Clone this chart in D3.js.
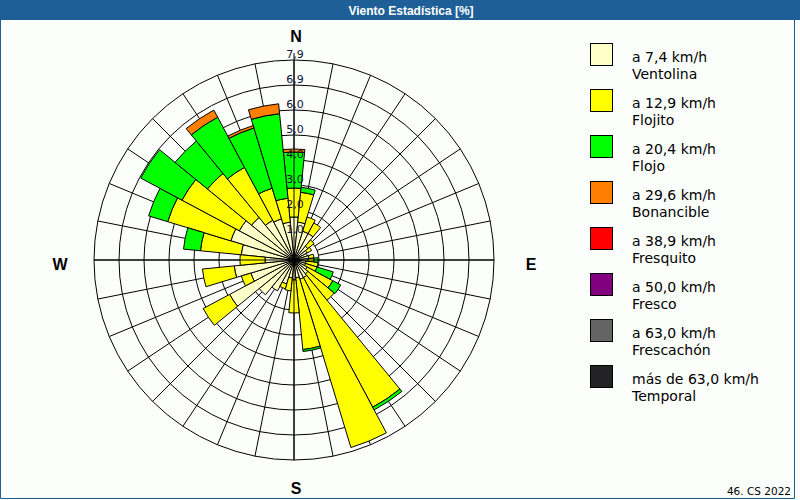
<!DOCTYPE html>
<html><head><meta charset="utf-8">
<script src="https://cdn.jsdelivr.net/npm/d3@7"></script>
<style>html,body{margin:0;padding:0;background:#fff}svg{display:block}</style>
</head><body>
<svg id="chart" width="800" height="500"></svg>
<script>
// 32 wind directions (11.25° steps, clockwise from N)
const directions = ["N","NbE","NNE","NEbN","NE","NEbE","ENE","EbN","E","EbS","ESE","SEbE","SE","SEbS","SSE","SbE",
                    "S","SbW","SSW","SWbS","SW","SWbW","WSW","WbS","W","WbN","WNW","NWbW","NW","NWbN","NNW","NbW"];
// percentage per speed class
const ventolina  = [1.72,1.52,1.20,1.20,0.72,0.60,0.56,0.60,0.56,0.48,0.48,0.60,0.72,0.80,0.80,0.72,
                    0.80,0.72,1.00,1.40,1.80,2.92,1.80,2.40,1.16,2.12,2.64,2.48,2.20,1.80,1.72,1.52];
const flojito    = [1.16,1.20,0.60,0.48,0.32,0.20,0.00,0.20,0.24,0.48,0.48,1.16,1.36,5.81,6.94,2.88,
                    1.32,0.52,0.20,0.00,0.00,1.20,0.40,1.28,1.00,1.64,2.64,2.60,2.28,2.40,1.28,0.96];
const flojo      = [1.44,0.20,0.00,0.00,0.00,0.00,0.00,0.00,0.16,0.00,0.68,0.36,0.00,0.11,0.00,0.08,
                    0.00,0.00,0.00,0.00,0.00,0.00,0.00,0.00,0.00,0.68,0.79,1.78,1.66,2.23,2.52,3.40];
const bonancible = [0.12,0.00,0.00,0.00,0.00,0.00,0.00,0.00,0.00,0.00,0.00,0.00,0.00,0.00,0.00,0.00,
                    0.00,0.00,0.00,0.00,0.00,0.00,0.00,0.00,0.00,0.00,0.00,0.00,0.00,0.29,0.10,0.37];
const ringValues = [1, 2, 3, 4, 5, 6, 6.9, 7.9];
const ringLabels = ["1,0","2,0","3,0","4,0","5,0","6,0","6,9","7,9"];
const legendSpeeds = ["a 7,4 km/h","a 12,9 km/h","a 20,4 km/h","a 29,6 km/h","a 38,9 km/h","a 50,0 km/h","a 63,0 km/h","más de 63,0 km/h"];
const legendNames  = ["Ventolina","Flojito","Flojo","Bonancible","Fresquito","Fresco","Frescachón","Temporal"];
const legendColors = ["#ffffc8","#ffff00","#00ff00","#ff8000","#ff0000","#800080","#646464","#232326"];
const compass = [{t:"N",a:0},{t:"E",a:90},{t:"S",a:180},{t:"W",a:270}];
const titleText = "Viento Estadística [%]";
const footText = "46. CS 2022";

const svg = d3.select("#chart");
const W = 800, H = 500;
const cx = 294, cy = 260, R = 200;

svg.append("rect").attr("width", W).attr("height", H).attr("fill", "#fcfefc");
svg.append("rect").attr("x", 0).attr("y", 0).attr("width", W).attr("height", 20).attr("fill", "#1f5f97");
svg.append("text").attr("x", 411).attr("y", 15).attr("text-anchor", "middle")
  .attr("font-family", "Liberation Sans, Arial, sans-serif").attr("font-weight", "bold")
  .attr("font-size", 12).attr("fill", "#ffffff").text(titleText);
// frame
svg.append("path").attr("d", `M0.5,20 V498.5 H794.5 V20`).attr("fill", "none").attr("stroke", "#1f5f97").attr("stroke-width", 1);

const rScale = d3.scaleLinear().domain([0].concat(ringValues)).range(d3.range(0, 9).map(k => k * R / 8));
const aScale = d3.scaleLinear().domain([0, directions.length]).range([0, 2 * Math.PI]);
const half = Math.PI / directions.length;

const g = svg.append("g").attr("transform", `translate(${cx},${cy})`);

// rings
g.append("g").selectAll("circle").data(ringValues).join("circle")
  .attr("r", d => rScale(d)).attr("fill", "none").attr("stroke", "#000").attr("stroke-width", 1);
// spokes
g.append("g").selectAll("line").data(directions).join("line")
  .attr("x1", (d, i) => rScale(ringValues[0]) * Math.sin(aScale(i)))
  .attr("y1", (d, i) => -rScale(ringValues[0]) * Math.cos(aScale(i)))
  .attr("x2", (d, i) => R * Math.sin(aScale(i)))
  .attr("y2", (d, i) => -R * Math.cos(aScale(i)))
  .attr("stroke", "#000").attr("stroke-width", 1);

// stacked bars
const keys = ["ventolina","flojito","flojo","bonancible"];
const rows = directions.map((d, i) => ({dir: d, ventolina: ventolina[i], flojito: flojito[i], flojo: flojo[i], bonancible: bonancible[i]}));
const stacked = d3.stack().keys(keys)(rows);
const arc = d3.arc();
stacked.forEach((layer, k) => {
  g.append("g").selectAll("path").data(layer.filter(s => s[1] - s[0] > 0.001)).join("path")
    .attr("d", s => {
      const i = directions.indexOf(s.data.dir);
      return arc({innerRadius: rScale(s[0]), outerRadius: rScale(s[1]),
                  startAngle: aScale(i) - half, endAngle: aScale(i) + half});
    })
    .attr("fill", legendColors[k]).attr("stroke", "#000").attr("stroke-width", 1).attr("stroke-linejoin", "miter");
});

// main axes on top
g.append("line").attr("x1", 0).attr("y1", -207).attr("x2", 0).attr("y2", R).attr("stroke", "#000");
g.append("line").attr("x1", -R).attr("y1", 0).attr("x2", R).attr("y2", 0).attr("stroke", "#000");

// ring labels
g.append("g").selectAll("text").data(ringValues).join("text")
  .attr("x", 1).attr("y", d => -rScale(d) - 2).attr("text-anchor", "middle")
  .attr("font-family", "DejaVu Sans, sans-serif").attr("font-size", 11).attr("fill", "#101030")
  .text((d, i) => ringLabels[i]);

// compass letters
const letterPos = {N: [2, -218], E: [237, 10], S: [2, 234], W: [-234, 10]};
g.append("g").selectAll("text").data(compass).join("text")
  .attr("x", d => letterPos[d.t][0]).attr("y", d => letterPos[d.t][1]).attr("text-anchor", "middle")
  .attr("font-family", "Liberation Sans, Arial, sans-serif").attr("font-weight", "bold").attr("font-size", 16)
  .attr("fill", "#000").text(d => d.t);

// legend
const lg = svg.append("g").attr("transform", "translate(590,43)");
const items = lg.selectAll("g").data(legendNames).join("g").attr("transform", (d, i) => `translate(0,${i * 46})`);
items.append("rect").attr("x", 0.5).attr("y", 0.5).attr("width", 22).attr("height", 22)
  .attr("fill", (d, i) => legendColors[i]).attr("stroke", "#000");
items.append("text").attr("x", 42).attr("y", 19).attr("font-family", "DejaVu Sans, sans-serif").attr("font-size", 14)
  .attr("fill", "#000").text((d, i) => legendSpeeds[i]);
items.append("text").attr("x", 42).attr("y", 36).attr("font-family", "DejaVu Sans, sans-serif").attr("font-size", 14)
  .attr("fill", "#000").text(d => d);

svg.append("text").attr("x", 791).attr("y", 495).attr("text-anchor", "end")
  .attr("font-family", "DejaVu Sans, sans-serif").attr("font-size", 10.5).attr("fill", "#000").text(footText);
</script>
</body></html>
